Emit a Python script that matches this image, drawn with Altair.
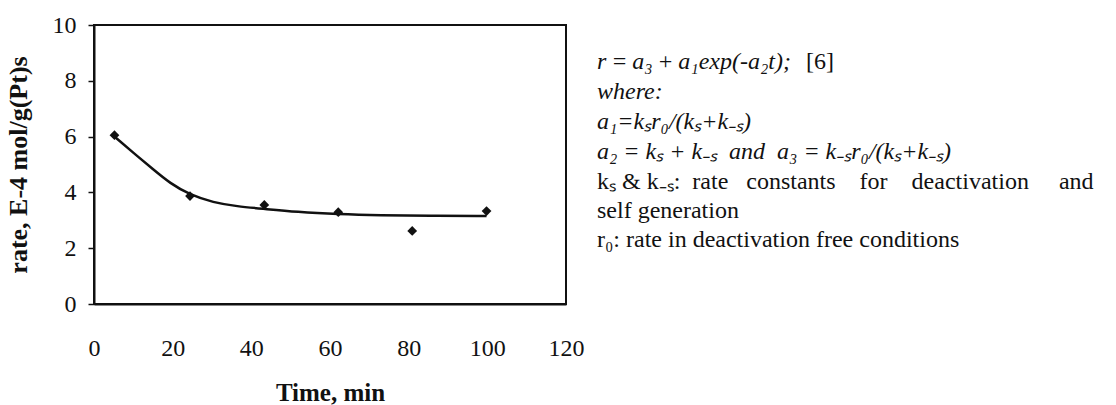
import altair as alt
import pandas as pd

# Measured catalyst activity over time
time_min = [5.2, 24.4, 43.3, 62.1, 80.9, 99.8]
rate_obs = [6.05, 3.87, 3.55, 3.29, 2.62, 3.33]

# Fitted decay curve r = a3 + a1*exp(-a2*t), sampled along the drawn line
fit_t = [5.2, 10.0, 15.1, 19.3, 24.4, 30.3, 36.3, 43.3, 51.5, 62.1, 72.7, 85.4, 99.8]
fit_r = [6.0, 5.42, 4.82, 4.33, 3.91, 3.64, 3.50, 3.41, 3.30, 3.22, 3.18, 3.16, 3.15]

x_ticks = [0, 20, 40, 60, 80, 100, 120]
y_ticks = [0, 2, 4, 6, 8, 10]

# Model notes printed beside the plot (thin / no-break spaces keep the spacing)
T, N = "\u2009", "\u00a0"
notes_italic = [
    f"r{T}={T}a₃{T}+{T}a₁exp(-a₂t);",
    "where:",
    "a₁=kₛr₀/(kₛ+k₋ₛ)",
    f"a₂ = kₛ + k₋ₛ{N}{N}and{N}{N}a₃ = k₋ₛr₀/(kₛ+k₋ₛ)",
]
eq_ref = "[6]"
notes_regular = [
    f"kₛ & k₋ₛ:{N*2}rate{N*3}constants{N*4}for{N*4}deactivation{N*5}and",
    "self generation",
    "r₀: rate in deactivation free conditions",
]

FONT = "Liberation Serif"
INK = "#111111"

obs = pd.DataFrame({"t": time_min, "r": rate_obs})
fit = pd.DataFrame({"t": fit_t, "r": fit_r})

x_scale = alt.Scale(domain=[0, 120], nice=False, zero=False)
y_scale = alt.Scale(domain=[0, 10], nice=False)

x_axis = alt.Axis(
    title="Time, min", values=x_ticks, grid=False, ticks=False, tickSize=0,
    labelPadding=51, labelBaseline="alphabetic", labelFontSize=24, labelFont=FONT,
    labelColor=INK, domainColor=INK, domainWidth=2, titleFont=FONT,
    titleFontSize=25, titleFontWeight="bold", titleColor=INK,
    titleBaseline="alphabetic", titleY=96, labelFlush=False,
)
y_axis = alt.Axis(
    title="rate, E-4 mol/g(Pt)s", values=y_ticks, grid=False, tickSize=6,
    tickColor=INK, tickWidth=1.5, labelPadding=12, labelFontSize=24,
    labelFont=FONT, labelColor=INK, labelBaseline="middle", domainColor=INK,
    domainWidth=2, titleFont=FONT, titleFontSize=26, titleFontWeight="bold",
    titleColor=INK, titleAngle=270, titleAlign="center", titleBaseline="middle",
    titleX=-76, titleY=139.5, labelFlush=False,
)

curve = alt.Chart(fit).mark_line(
    interpolate="basis", color=INK, strokeWidth=2.5
).encode(
    x=alt.X("t:Q", scale=x_scale, axis=x_axis),
    y=alt.Y("r:Q", scale=y_scale, axis=y_axis),
)

points = alt.Chart(obs).mark_point(
    shape="diamond", filled=True, size=95, color=INK, opacity=1
).encode(
    x=alt.X("t:Q", scale=x_scale),
    y=alt.Y("r:Q", scale=y_scale),
)

note_a = alt.Chart(pd.DataFrame({"k": [0]})).mark_text(
    text=notes_italic, font=FONT, fontSize=24, fontStyle="italic", color=INK,
    align="left", baseline="alphabetic", lineHeight=30,
).encode(x=alt.value(503), y=alt.value(44))

note_ref = alt.Chart(pd.DataFrame({"k": [0]})).mark_text(
    text=eq_ref, font=FONT, fontSize=24, color=INK, align="left",
    baseline="alphabetic",
).encode(x=alt.value(712), y=alt.value(44))

note_b = alt.Chart(pd.DataFrame({"k": [0]})).mark_text(
    text=notes_regular, font=FONT, fontSize=24, color=INK, align="left",
    baseline="alphabetic", lineHeight=29,
).encode(x=alt.value(503), y=alt.value(44 + 4 * 30))

chart = alt.layer(curve, points, note_a, note_ref, note_b).properties(
    width=472, height=279,
    autosize=alt.AutoSizeParams(type="none"),
    padding={"left": 94, "top": 25, "right": 550, "bottom": 101},
    background="white",
).configure_view(
    stroke=INK, strokeWidth=2
).configure_axis(labelFont=FONT, titleFont=FONT)

chart.save("out.html", embed_options={"renderer": "svg", "actions": False})
